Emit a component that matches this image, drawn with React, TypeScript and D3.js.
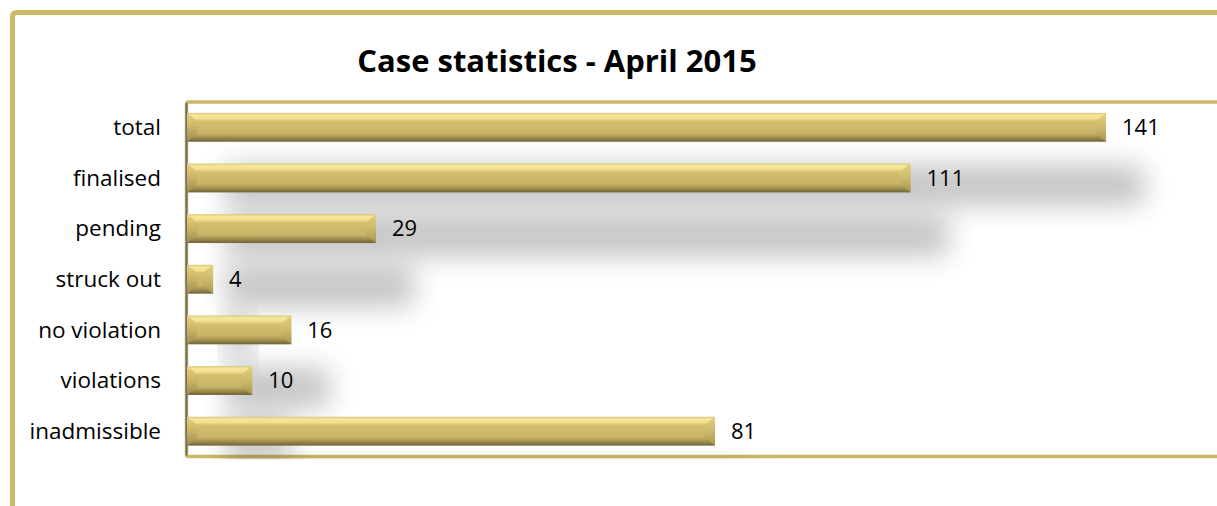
import React from "react";
import * as d3 from "d3";

const categories = ["total", "finalised", "pending", "struck out", "no violation", "violations", "inadmissible"];
const values = [141, 111, 29, 4, 16, 10, 81];
const titleText = "Case statistics - April 2015";
const xDomainMax = 160;

const W = 1217;
const H = 506;
const GOLD = "#CDB864";
const FONT = "'Open Sans', Lato, sans-serif";

export default function App() {
  const plotLeft = 186.5;
  const plotTop = 102;
  const plotBottom = 456.5;
  const x = d3.scaleLinear().domain([0, xDomainMax]).range([plotLeft + 0.5, plotLeft + 0.5 + xDomainMax * 6.518]);
  const y = d3.scaleBand<string>().domain(categories).range([plotTop, plotBottom]).paddingInner(0.43).paddingOuter(0.215);
  const bh = y.bandwidth();
  const dx = 38;
  const dy = 58;

  return (
    <svg width={W} height={H} style={{ position: "absolute", left: 0, top: 0, background: "#fff" }}>
      <defs>
        <linearGradient id="barGrad" x1="0" y1="0" x2="0" y2="1">
          <stop offset="0" stopColor="#d8c57a" />
          <stop offset="0.08" stopColor="#f6e79c" />
          <stop offset="0.2" stopColor="#f1df8e" />
          <stop offset="0.3" stopColor="#d3bf6e" />
          <stop offset="0.7" stopColor="#c8b466" />
          <stop offset="0.8" stopColor="#b09e57" />
          <stop offset="0.92" stopColor="#8a7b45" />
          <stop offset="1" stopColor="#6f6338" />
        </linearGradient>
        <linearGradient id="leftGrad" x1="0" y1="0" x2="0" y2="1">
          <stop offset="0" stopColor="#e6d282" />
          <stop offset="0.5" stopColor="#c9b466" />
          <stop offset="1" stopColor="#9e8c4c" />
        </linearGradient>
        <linearGradient id="rightGrad" x1="0" y1="0" x2="0" y2="1">
          <stop offset="0" stopColor="#e2cf80" />
          <stop offset="0.5" stopColor="#cdb96c" />
          <stop offset="1" stopColor="#a8964f" />
        </linearGradient>
        <filter id="shadowBlur" x="-30%" y="-300%" width="160%" height="700%">
          <feGaussianBlur stdDeviation="14" />
        </filter>
        <clipPath id="plotClip">
          <rect x={plotLeft} y={plotTop} width={W - plotLeft} height={plotBottom - plotTop + 3} />
        </clipPath>
      </defs>

      {/* outer frame */}
      <path d={`M12.5,${H} L12.5,17 Q12.5,12.5 17,12.5 L${W},12.5`} fill="none" stroke={GOLD} strokeWidth={5} />

      {/* title */}
      <text x={557} y={72} textAnchor="middle" fontFamily={FONT} fontWeight="bold" fontSize={31} fill="#000">
        {titleText}
      </text>

      {/* plot area frame */}
      <path
        d={`M${W},${plotTop} L${plotLeft + 2},${plotTop} Q${plotLeft},${plotTop} ${plotLeft},${plotTop + 2} L${plotLeft},${plotBottom - 2} Q${plotLeft},${plotBottom} ${plotLeft + 2},${plotBottom} L${W},${plotBottom}`}
        fill="none"
        stroke={GOLD}
        strokeWidth={3.5}
      />

      {/* shadows */}
      <g clipPath="url(#plotClip)">
        {categories.map((c, i) => {
          const x0 = x(0);
          const x1 = x(values[i]);
          return (
            <rect
              key={"s" + c}
              x={x0 + dx}
              y={(y(c) as number) + dy - 5}
              width={Math.max(0, x1 - x0)}
              height={bh + 10}
              fill="#000"
              opacity={0.24}
              filter="url(#shadowBlur)"
            />
          );
        })}
      </g>

      {/* category axis line */}
      <line x1={plotLeft} x2={plotLeft} y1={plotTop + 1} y2={plotBottom - 1} stroke="#6e6e6e" strokeWidth={2} />

      {/* bars */}
      {categories.map((c, i) => {
        const x0 = x(0);
        const x1 = x(values[i]);
        const y0 = y(c) as number;
        const w = x1 - x0;
        const b = Math.min(10, w / 2);
        const bv = 8;
        return (
          <g key={"b" + c}>
            <rect x={x0} y={y0} width={w} height={bh} fill="url(#barGrad)" />
            <polygon
              points={`${x0},${y0} ${x0 + b},${y0 + bv} ${x0 + b},${y0 + bh - bv} ${x0},${y0 + bh}`}
              fill="url(#leftGrad)"
            />
            <polygon
              points={`${x1},${y0} ${x1 - b},${y0 + bv} ${x1 - b},${y0 + bh - bv} ${x1},${y0 + bh}`}
              fill="url(#rightGrad)"
            />
          </g>
        );
      })}

      {/* value labels */}
      {categories.map((c, i) => (
        <text
          key={"v" + c}
          x={x(values[i]) + 16}
          y={(y(c) as number) + bh / 2}
          dy="0.35em"
          fontFamily={FONT}
          fontSize={22}
          fill="#000"
        >
          {values[i]}
        </text>
      ))}

      {/* category labels */}
      {categories.map((c) => (
        <text
          key={"c" + c}
          x={161}
          y={(y(c) as number) + bh / 2}
          dy="0.35em"
          textAnchor="end"
          fontFamily={FONT}
          fontSize={22.5}
          fill="#000"
        >
          {c}
        </text>
      ))}
    </svg>
  );
}
